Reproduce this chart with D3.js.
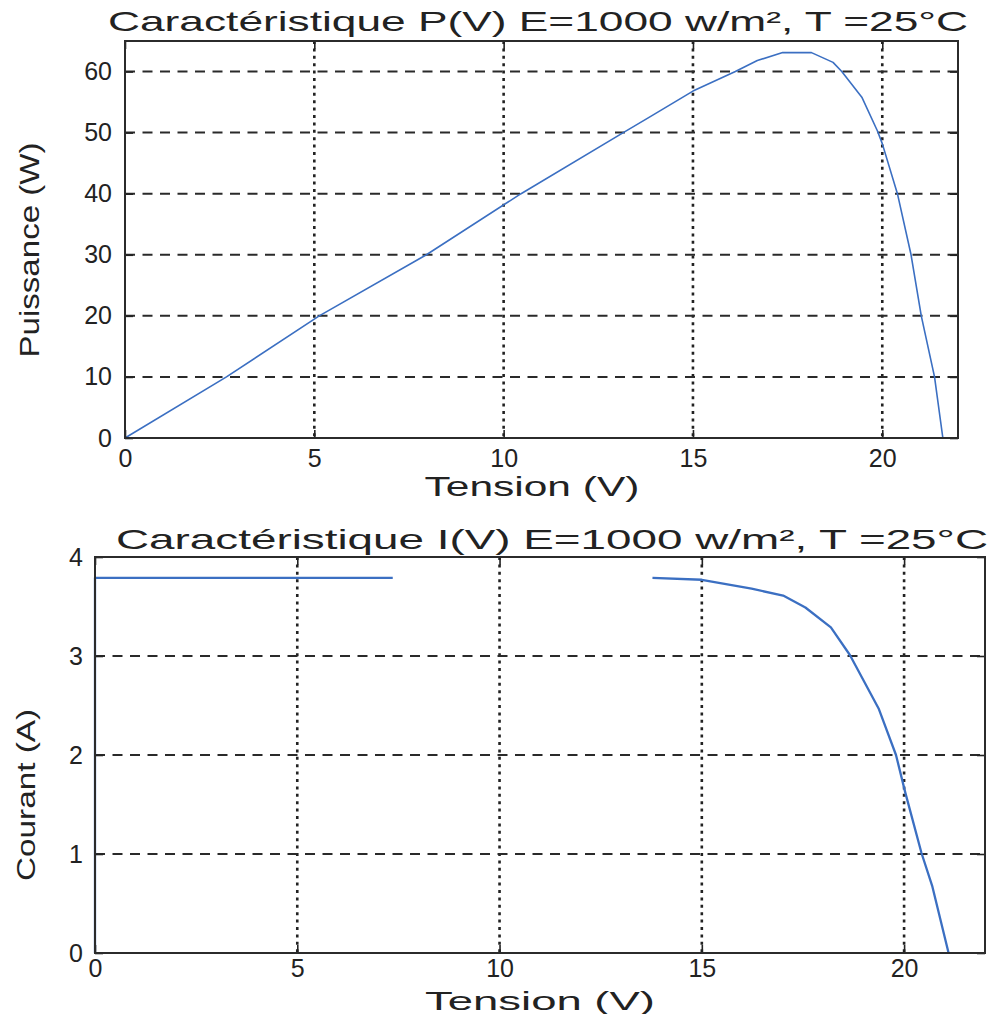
<!DOCTYPE html>
<html>
<head>
<meta charset="utf-8">
<script src="https://cdn.jsdelivr.net/npm/d3@7"></script>
<style>
  body { margin: 0; background: #fff; }
  text { font-family: "Liberation Sans", Arial, sans-serif; fill: #222; }
</style>
</head>
<body>
<svg id="fig" width="990" height="1014"></svg>
<script>
// Tick values shared by both panels
const voltageTicks = [0, 5, 10, 15, 20];
const powerTicks = [0, 10, 20, 30, 40, 50, 60];
const currentTicks = [0, 1, 2, 3, 4];

// P(V) characteristic, E = 1000 W/m², T = 25 °C
const pvVoltage = [0, 2.68, 5.13, 7.96, 10.46, 13.16, 13.84, 15, 16.12, 16.7, 17.37, 18.13, 18.7, 18.93, 19.46, 19.87, 20, 20.4, 20.76, 21.03, 21.38, 21.6];
const pvPower   = [0, 10, 20, 30, 40, 50, 52.5, 56.8, 60, 61.8, 63.1, 63.1, 61.5, 60, 55.8, 50.3, 48.2, 40, 30, 20, 10, 0];

// I(V) characteristic; null marks a break in the trace
const ivVoltage = [0, 0, 7.36, null, 13.78, 15, 16.23, 17.01, 17.56, 18.19, 18.66, 19.37, 19.8, 20.03, 20.43, 20.7, 21.1];
const ivCurrent = [0, 3.79, 3.79, null, 3.79, 3.77, 3.68, 3.61, 3.49, 3.29, 3.01, 2.47, 2.0, 1.62, 1.01, 0.67, 0];

const svg = d3.select("#fig");
svg.append("rect").attr("width", 990).attr("height", 1014).attr("fill", "#fff");

function panel(cfg) {
  const g = svg.append("g");
  const x = d3.scaleLinear().domain([0, 22]).range([cfg.left, cfg.right]);
  const y = d3.scaleLinear().domain(cfg.yDomain).range([cfg.bottom, cfg.top]);
  const fmt = d3.format("d");

  // grid: dotted verticals, dashed horizontals
  g.append("g").selectAll("line")
    .data(voltageTicks.filter(v => v > 0))
    .join("line")
    .attr("x1", d => x(d)).attr("x2", d => x(d))
    .attr("y1", cfg.top).attr("y2", cfg.bottom)
    .attr("stroke", "#222").attr("stroke-width", 2.6)
    .attr("stroke-dasharray", "3,4.4");
  g.append("g").selectAll("line")
    .data(cfg.yTicks.filter(v => v > 0 && v < cfg.yDomain[1]))
    .join("line")
    .attr("x1", cfg.left).attr("x2", cfg.right)
    .attr("y1", d => y(d)).attr("y2", d => y(d))
    .attr("stroke", "#2a2a2a").attr("stroke-width", 2)
    .attr("stroke-dasharray", "10,7.5");

  // curve
  const pts = cfg.xs.map((v, i) => ({ v, w: cfg.ys[i] }));
  const line = d3.line()
    .defined(d => d.v !== null && d.w !== null)
    .x(d => x(d.v)).y(d => y(d.w));
  g.append("path").datum(pts)
    .attr("d", line)
    .attr("fill", "none")
    .attr("stroke", "#3b6fc2")
    .attr("stroke-width", cfg.lineWidth)
    .attr("stroke-linejoin", "round");

  // axes with inward ticks, mirrored on top and right
  const xb = g.append("g").attr("transform", `translate(0,${cfg.bottom})`)
    .call(d3.axisBottom(x).tickValues(voltageTicks).tickFormat(fmt)
      .tickSize(-8).tickSizeOuter(0).tickPadding(cfg.xPad));
  const yl = g.append("g").attr("transform", `translate(${cfg.left},0)`)
    .call(d3.axisLeft(y).tickValues(cfg.yTicks).tickFormat(fmt)
      .tickSize(-8).tickSizeOuter(0).tickPadding(cfg.yPad));
  g.append("g").attr("transform", `translate(0,${cfg.top})`)
    .call(d3.axisTop(x).tickValues(voltageTicks).tickSize(-8).tickSizeOuter(0).tickFormat(""));
  g.append("g").attr("transform", `translate(${cfg.right},0)`)
    .call(d3.axisRight(y).tickValues(cfg.yTicks).tickSize(-8).tickSizeOuter(0).tickFormat(""));
  g.selectAll(".domain").remove();
  g.selectAll(".tick line").attr("stroke", "#222").attr("stroke-width", 1.6);
  xb.selectAll("text").attr("font-size", cfg.tickFont).attr("fill", "#222");
  yl.selectAll("text").attr("font-size", cfg.tickFont).attr("fill", "#222");

  // frame
  g.append("rect")
    .attr("x", cfg.left).attr("y", cfg.top)
    .attr("width", cfg.right - cfg.left).attr("height", cfg.bottom - cfg.top)
    .attr("fill", "none").attr("stroke", "#2b2b2b").attr("stroke-width", 2);

  // title and axis labels
  g.append("text")
    .attr("x", cfg.titleX).attr("y", cfg.titleY)
    .attr("text-anchor", "middle").attr("font-size", 28)
    .attr("textLength", cfg.titleLen).attr("lengthAdjust", "spacingAndGlyphs")
    .text(cfg.title);
  g.append("text")
    .attr("x", cfg.xLabelX).attr("y", cfg.xLabelY)
    .attr("text-anchor", "middle").attr("font-size", cfg.xLabelFont)
    .attr("textLength", cfg.xLabelLen).attr("lengthAdjust", "spacingAndGlyphs")
    .text("Tension (V)");
  g.append("text")
    .attr("transform", `translate(${cfg.yLabelX},${cfg.yLabelY}) rotate(-90)`)
    .attr("text-anchor", "middle").attr("font-size", cfg.yLabelFont)
    .attr("textLength", cfg.yLabelLen).attr("lengthAdjust", "spacingAndGlyphs")
    .text(cfg.yLabel);
}

panel({
  left: 125, right: 958, top: 41, bottom: 438,
  yDomain: [0, 65], yTicks: powerTicks,
  xs: pvVoltage, ys: pvPower, lineWidth: 1.6,
  tickFont: 25, xPad: 11, yPad: 13,
  title: "Caractéristique P(V) E=1000 w/m², T =25°C",
  titleX: 538, titleY: 31, titleLen: 860,
  xLabelX: 532, xLabelY: 496, xLabelLen: 215, xLabelFont: 27,
  yLabel: "Puissance (W)", yLabelX: 39, yLabelY: 250, yLabelLen: 215, yLabelFont: 27
});

panel({
  left: 95, right: 985, top: 557, bottom: 953,
  yDomain: [0, 4], yTicks: currentTicks,
  xs: ivVoltage, ys: ivCurrent, lineWidth: 2.3,
  tickFont: 25, xPad: 6, yPad: 12,
  title: "Caractéristique I(V) E=1000 w/m², T =25°C",
  titleX: 552, titleY: 549, titleLen: 872,
  xLabelX: 540, xLabelY: 1010, xLabelLen: 230, xLabelFont: 25,
  yLabel: "Courant (A)", yLabelX: 35, yLabelY: 795, yLabelLen: 172, yLabelFont: 25
});
</script>
</body>
</html>
